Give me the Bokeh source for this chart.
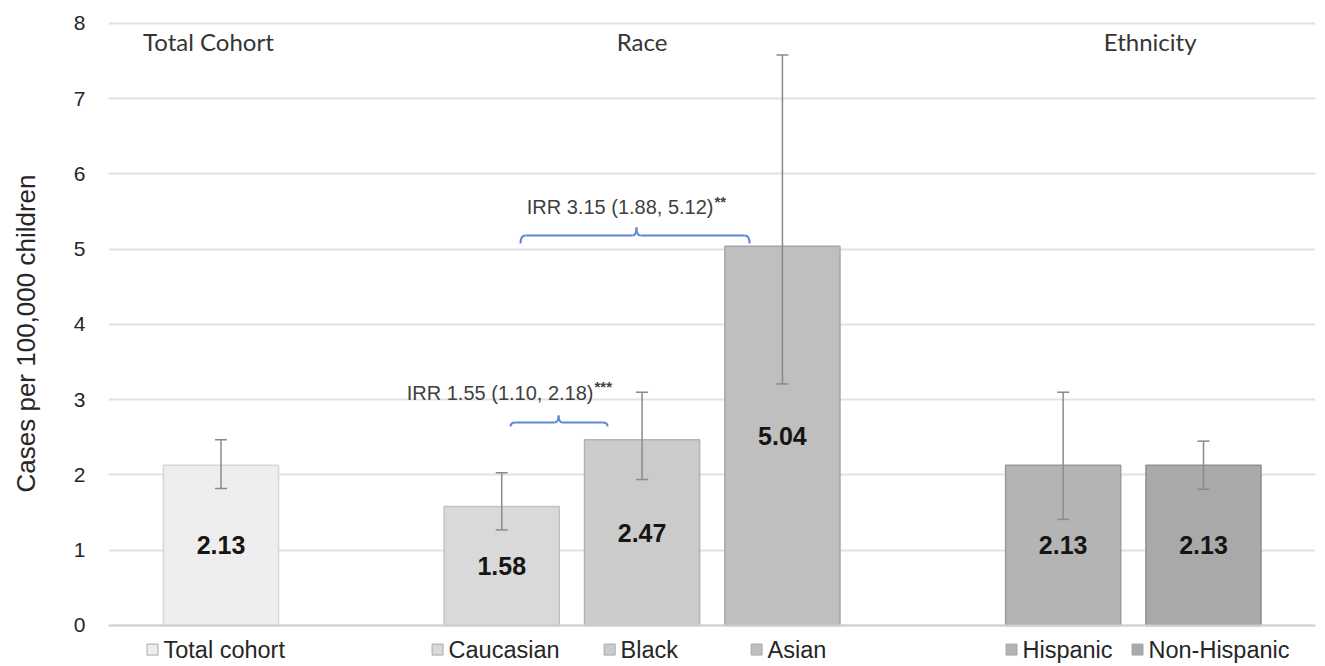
from bokeh.plotting import figure
from bokeh.models import Range1d, FixedTicker, ColumnDataSource, Whisker, TeeHead, Span
from bokeh.core.properties import value
from bokeh.embed import file_html
from bokeh.resources import INLINE

# ---------------- data ----------------
categories = ["Total cohort", "Caucasian", "Black", "Asian", "Hispanic", "Non-Hispanic"]
rates = [2.13, 1.58, 2.47, 5.04, 2.13, 2.13]
ci_low = [1.82, 1.27, 1.94, 3.21, 1.41, 1.81]
ci_high = [2.47, 2.03, 3.10, 7.58, 3.10, 2.45]
slot = [0, 2, 3, 4, 6, 7]
groups = ["Total Cohort", "Race", "Ethnicity"]
irr_text = ["IRR 1.55 (1.10, 2.18)", "IRR 3.15 (1.88, 5.12)"]
irr_stars = ["***", "**"]
y_ticks = [0, 1, 2, 3, 4, 5, 6, 7, 8]

# ---------------- styling / positions ----------------
fills = ["#eeeeee", "#d9d9d9", "#cbcbcb", "#bfbfbf", "#b4b4b4", "#a9a9a9"]
edges = ["#d6d6d6", "#c2c2c2", "#b2b2b2", "#a6a6a6", "#9a9a9a", "#8f8f8f"]
group_x = [-0.09, 3.0, 6.62]
group_y = 7.76
legend_text_x = [-0.410, 1.621, 2.847, 3.894, 5.710, 6.608]
legend_y = -0.32
irr_x_end = [2.654, 3.509]
irr_y = [3.096, 5.555]
br_left = [2.063, 2.134]
br_right = [2.754, 3.766]
br_mid = [2.405, 2.960]
br_y = [2.698, 5.183]
br_end_y = [2.645, 5.076]
br_tip_y = [2.791, 5.289]
BLUE = "#5c87d6"

p = figure(width=1325, height=666, title=None,
           x_range=Range1d(-0.8016, 7.798), y_range=Range1d(-0.5449, 8.3056),
           output_backend="svg", toolbar_location=None,
           min_border_left=108, min_border_right=10, min_border_top=0, min_border_bottom=0,
           x_axis_location=None, outline_line_color=None)

p.yaxis.ticker = FixedTicker(ticks=y_ticks)
p.yaxis.axis_line_color = None
p.yaxis.major_tick_line_color = None
p.yaxis.minor_tick_line_color = None
p.yaxis.major_tick_out = 0
p.yaxis.major_tick_in = 0
p.yaxis.major_label_standoff = 23
p.yaxis.major_label_text_font = "Liberation Sans"
p.yaxis.major_label_text_font_size = "21px"
p.yaxis.major_label_text_color = "#262626"
p.yaxis.axis_label = "Cases per 100,000 children"
p.yaxis.axis_label_text_font = "Liberation Sans"
p.yaxis.axis_label_text_font_size = "26px"
p.yaxis.axis_label_text_font_style = "normal"
p.yaxis.axis_label_text_color = "#262626"
p.yaxis.axis_label_standoff = 30

p.xgrid.visible = False
p.ygrid.grid_line_color = "#e2e2e2"
p.ygrid.grid_line_width = 2
p.add_layout(Span(location=0, dimension="width", line_color="#cfcfcf", line_width=2))

src = ColumnDataSource(dict(x=slot, top=rates, lo=ci_low, hi=ci_high,
                            fill=fills, edge=edges,
                            lab=[f"{v:.2f}" for v in rates],
                            laby=[v / 2 for v in rates]))

p.vbar(x="x", top="top", bottom=0, width=0.82, fill_color="fill", line_color="edge",
       line_width=1.5, source=src)

wcol = "#8a8a8a"
p.add_layout(Whisker(source=src, base="x", upper="hi", lower="lo", level="annotation",
                     line_color=wcol, line_width=1.5,
                     upper_head=TeeHead(size=12, line_color=wcol, line_width=1.5),
                     lower_head=TeeHead(size=12, line_color=wcol, line_width=1.5)))

p.text(x="x", y="laby", text="lab", source=src, text_align="center", text_baseline="middle",
       text_font=value("Liberation Sans"), text_font_size="25px", text_font_style="bold",
       text_color="#151515")

# group headers
p.text(x=group_x, y=[group_y] * len(groups), text=groups, text_align="center",
       text_baseline="middle", text_font=value("Lato"), text_font_size="24px",
       text_color="#353535")

# legend-like labels under bars
sq_off = 0.078
p.scatter(x=[v - sq_off for v in legend_text_x], y=[legend_y] * len(categories),
          marker="square", size=11, fill_color=fills, line_color="#a8a8a8", line_width=1)
p.text(x=legend_text_x, y=[legend_y] * len(categories), text=categories, text_align="left",
       text_baseline="middle", text_font=value("Liberation Sans"), text_font_size="23.5px",
       text_color="#262626")

# IRR annotations
p.text(x=irr_x_end, y=irr_y, text=irr_text, text_align="right", text_baseline="middle",
       text_font=value("Liberation Sans"), text_font_size="20px", text_color="#3f3f3f")
p.text(x=irr_x_end, y=irr_y, text=irr_stars, text_align="left", text_baseline="middle",
       x_offset=1, y_offset=-6, text_font=value("Liberation Sans"), text_font_size="15px",
       text_font_style="bold", text_color="#3f3f3f")

# curly brackets
r = 0.035
r2 = 0.028
for xl, xr, xm, yl, ye, yt in zip(br_left, br_right, br_mid, br_y, br_end_y, br_tip_y):
    p.quadratic(x0=[xl, xr - r, xm - r2, xm], y0=[ye, yl, yl, yt],
                x1=[xl + r, xr, xm, xm + r2], y1=[yl, ye, yt, yl],
                cx=[xl, xr, xm, xm], cy=[yl, yl, yl, yl],
                line_color=BLUE, line_width=2)
    p.segment(x0=[xl + r, xm + r2], y0=[yl, yl], x1=[xm - r2, xr - r], y1=[yl, yl],
              line_color=BLUE, line_width=2)

open("out.html", "w").write(file_html(p, INLINE))
